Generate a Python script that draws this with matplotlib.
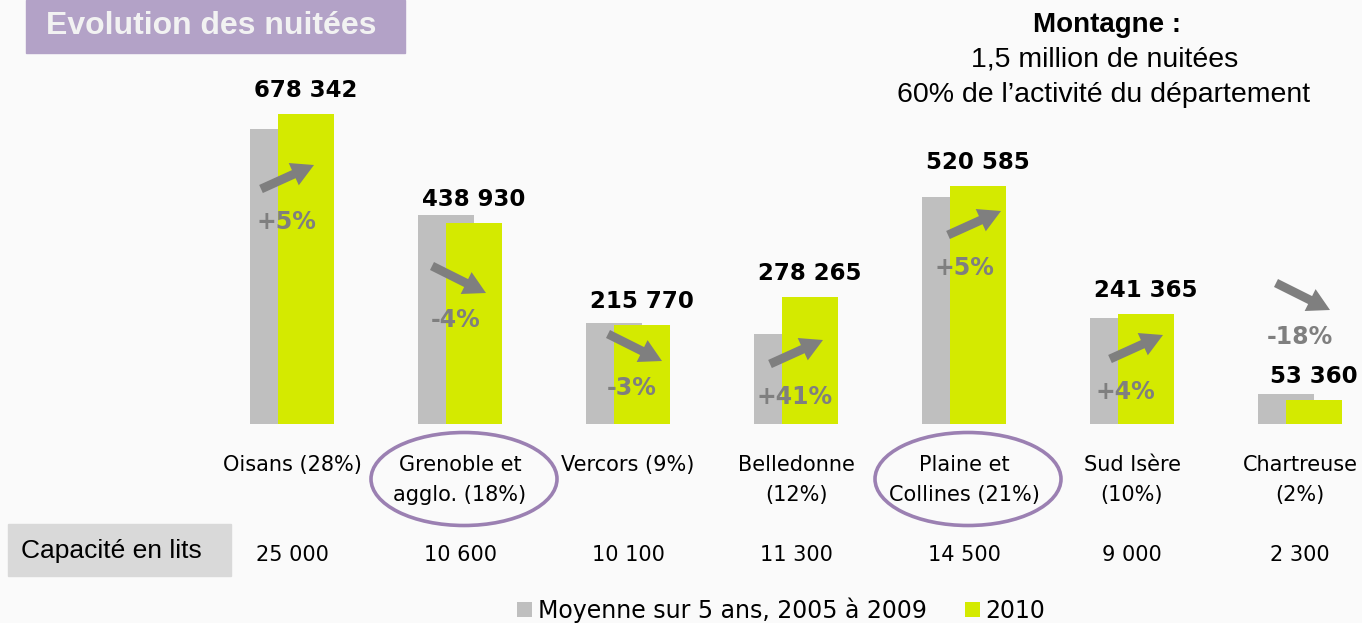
"""Evolution des nuitées par massif : moyenne 2005-2009 vs 2010."""

import matplotlib
matplotlib.use("Agg")
import matplotlib.pyplot as plt
from matplotlib.patches import Ellipse, Rectangle

# ---- data -------------------------------------------------------------
CATEGORIES = ["Oisans (28%)", "Grenoble et\nagglo. (18%)", "Vercors (9%)",
              "Belledonne\n(12%)", "Plaine et\nCollines (21%)",
              "Sud Isère\n(10%)", "Chartreuse\n(2%)"]
AVG_2005_2009 = [646000, 457000, 222000, 197000, 496000, 232000, 65000]
NUITEES_2010 = [678342, 438930, 215770, 278265, 520585, 241365, 53360]
EVOLUTION_PCT = [5, -4, -3, 41, 5, 4, -18]
CAPACITE_LITS = [25000, 10600, 10100, 11300, 14500, 9000, 2300]
HIGHLIGHT = [1, 4]

# ---- layout (pixels of the 1362x623 canvas) ---------------------------
W, H = 1362, 623
X0, STEP = 292, 168          # first category centre, spacing
Y0 = 424                     # baseline of the bars (from top)
YPX = 678342 / 310           # nuitées per pixel
XPX = 1 / STEP
PCT_Y_PX = [220, 318, 386, 395, 266, 390, 335]   # centre of % labels
PCT_DX_PX = [-6, -4, 4, -1, 0, -7, 0]
ARROW_DX_PX = [0, 0, 0, 0, 9, 10, 0]

GRAY = "#bfbfbf"
GREEN = "#d4ea00"
ARROW = "#7f7f7f"
PURPLE = "#9b80b2"
BG = "#fafafa"


def fmt(v):
    return f"{v:,}".replace(",", " ")


def data_y(py):
    return (Y0 - py) * YPX


def main():
    fig = plt.figure(figsize=(W / 100, H / 100), dpi=100, facecolor=BG)
    ax = fig.add_axes([0, 0, 1, 1])
    ax.set_axis_off()
    ax.set_xlim(-X0 * XPX, (W - X0) * XPX)
    ax.set_ylim(data_y(H), data_y(0))

    x = list(range(len(CATEGORIES)))
    bw = 56 * XPX
    off = 14 * XPX
    ax.bar([i - off for i in x], AVG_2005_2009, width=bw, color=GRAY,
           label="Moyenne sur 5 ans, 2005 à 2009")
    ax.bar([i + off for i in x], NUITEES_2010, width=bw, color=GREEN,
           label="2010")

    for i in x:
        v = NUITEES_2010[i]
        ax.text(i + off, v + 17 * YPX, fmt(v), ha="center", va="baseline",
                fontsize=16.5, fontweight="bold", color="black")

        # evolution label + arrow
        lx = X0 + i * STEP + PCT_DX_PX[i]
        ly = PCT_Y_PX[i]
        p = EVOLUTION_PCT[i]
        ax.text((lx - X0) * XPX, data_y(ly + 9), f"{p:+d}%", ha="center",
                va="baseline", fontsize=17, fontweight="bold", color=ARROW)
        ax_ = lx + ARROW_DX_PX[i]
        if p > 0:
            tail, tip = (ax_ - 25, ly - 31), (ax_ + 28, ly - 55)
        else:
            tail, tip = (ax_ - 24, ly - 52), (ax_ + 30, ly - 25)
        ax.annotate("", xy=((tip[0] - X0) * XPX, data_y(tip[1])),
                    xytext=((tail[0] - X0) * XPX, data_y(tail[1])),
                    arrowprops=dict(arrowstyle="simple,head_length=1.0,"
                                    "head_width=1.1,tail_width=0.4",
                                    mutation_scale=16, color=ARROW,
                                    shrinkA=0, shrinkB=0, lw=0))

        # category label lines
        for k, line in enumerate(CATEGORIES[i].split("\n")):
            ax.text(i, data_y(465 + 30 * k), line, ha="center", va="center",
                    fontsize=15, color="black")

        ax.text(i, data_y(555), fmt(CAPACITE_LITS[i]), ha="center",
                va="center", fontsize=15, color="black")

    for i in HIGHLIGHT:
        ax.add_patch(Ellipse((i + 4 * XPX, data_y(479)), 186 * XPX,
                             93 * YPX, fill=False, ec=PURPLE, lw=2.6))

    # title box
    fig.patches.append(Rectangle((26 / W, 1 - 53 / H), 379 / W, 53 / H,
                                 transform=fig.transFigure, color="#b3a2c7"))
    fig.text(211 / W, 1 - 26 / H, "Evolution des nuitées", ha="center",
             va="center", fontsize=23, fontweight="bold", color="#f2f2f2",
             family="Liberation Sans")

    # capacity row header
    fig.patches.append(Rectangle((8 / W, 1 - 576 / H), 223 / W, 52 / H,
                                 transform=fig.transFigure, color="#d9d9d9"))
    fig.text(111 / W, 1 - 551 / H, "Capacité en lits", ha="center",
             va="center", fontsize=19, family="Liberation Sans")

    # top-right note
    fig.text(1107 / W, 1 - 25 / H, "Montagne :", ha="center", va="center",
             fontsize=20, fontweight="bold", family="Liberation Sans")
    fig.text(1105 / W, 1 - 60 / H, "1,5 million de nuitées", ha="center",
             va="center", fontsize=20.5, family="Liberation Sans")
    fig.text(1104 / W, 1 - 95 / H, "60% de l\u2019activité du département",
             ha="center", va="center", fontsize=20.5, family="Liberation Sans")

    ax.legend(loc="center left", bbox_to_anchor=(517 / W, 1 - 610 / H),
              bbox_transform=fig.transFigure, ncol=2, frameon=False,
              fontsize=17, handlelength=0.64, handleheight=0.64,
              handletextpad=0.25, columnspacing=1.6, borderpad=0,
              borderaxespad=0)

    fig.savefig("out.png", dpi=100, facecolor=BG)
    plt.close(fig)


if __name__ == "__main__":
    main()
